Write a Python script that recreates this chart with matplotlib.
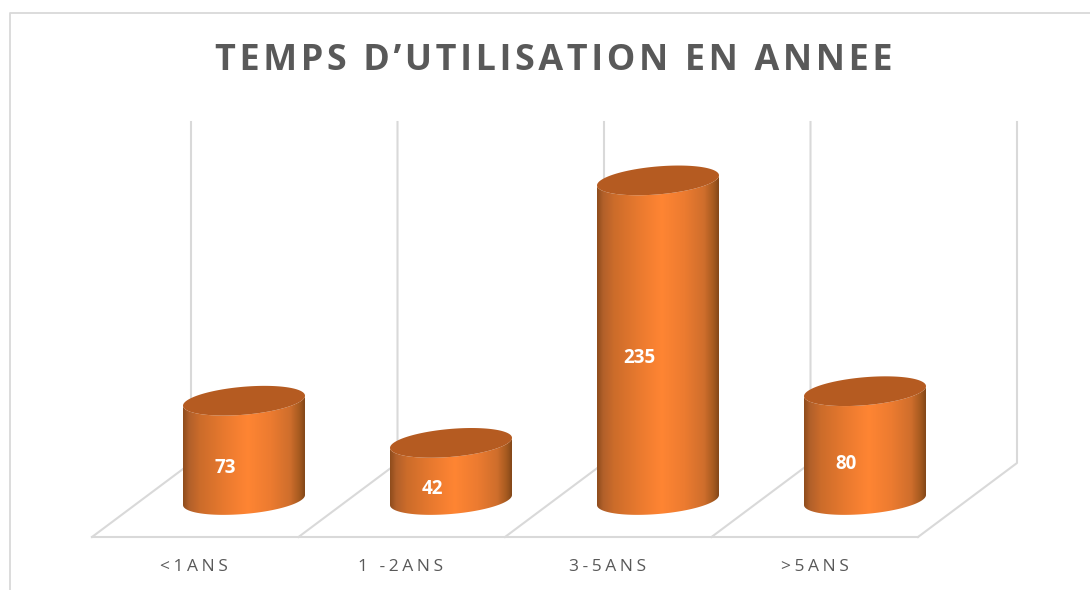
import numpy as np
import matplotlib.pyplot as plt
from matplotlib.colors import LinearSegmentedColormap
from matplotlib.patches import Polygon

title = "TEMPS D\u2019UTILISATION EN ANNEE"
categories = ["<1ANS", "1 -2ANS", "3-5ANS", ">5ANS"]
values = [73, 42, 235, 80]

W, H = 1090, 590
BASE_Y = 500    # pixel row of value 0 (centre of the cylinder foot)
PX_PER_UNIT = 1.36
FIRST_X = 244
STEP_X = 207
AX_LEFT, AX_RIGHT, AX_BOTTOM, AX_TOP = 92, 1017, 537, 122

grid_c = "#d9d9d9"
text_c = "#595959"

plt.rcParams["font.family"] = ["Open Sans", "DejaVu Sans"]


def spaced(s, sep):
    return sep.join(s)


fig = plt.figure(figsize=(W / 100, H / 100), dpi=100, facecolor="white")

# frame, back wall and floor lines, in pixels
bg = fig.add_axes([0, 0, 1, 1])
bg.set_xlim(0, W)
bg.set_ylim(H, 0)
bg.axis("off")
bg.plot([9.5, 9.5, W], [H, 12.5, 12.5], color=grid_c, lw=1.3)
for i in range(5):
    xf = AX_LEFT + i * (AX_RIGHT - 99 - AX_LEFT) / 4
    xb = xf + 99
    bg.plot([xb, xb, xf], [AX_TOP, 463, AX_BOTTOM], color=grid_c, lw=1.5)
bg.plot([AX_LEFT, AX_RIGHT - 99], [AX_BOTTOM, AX_BOTTOM], color=grid_c, lw=1.5)

# data axes
ax = fig.add_axes([AX_LEFT / W, 1 - AX_BOTTOM / H, (AX_RIGHT - AX_LEFT) / W, (AX_BOTTOM - AX_TOP) / H])
ax.patch.set_alpha(0)
xlim = ((AX_LEFT - FIRST_X) / STEP_X, (AX_RIGHT - FIRST_X) / STEP_X)
ylim = ((BASE_Y - AX_BOTTOM) / PX_PER_UNIT, (BASE_Y - AX_TOP) / PX_PER_UNIT)

half_w = 61 / STEP_X
half_h = 14 / PX_PER_UNIT
skew = 5 / PX_PER_UNIT

side_cmap = LinearSegmentedColormap.from_list("side", [
    (0.0, "#8f4c1d"), (0.05, "#b2602a"), (0.14, "#cc6c2a"), (0.35, "#ea7a2f"),
    (0.53, "#ff8533"), (0.72, "#ec7b30"), (0.88, "#cf6e2c"), (0.96, "#a4591f"), (1.0, "#834719"),
])
shade = np.linspace(0, 1, 256).reshape(1, -1)

t = np.linspace(0, 2 * np.pi, 181)
for i, v in enumerate(values):
    ex = i + half_w * np.cos(t)
    ey = half_h * np.sin(t) + skew * np.cos(t)

    # body: foot arc (lower half) then top arc (lower half, reversed)
    lower = t[90:]
    bx = i + half_w * np.cos(lower)
    by = half_h * np.sin(lower) + skew * np.cos(lower)
    verts = np.r_[np.c_[bx, by], np.c_[bx[::-1], by[::-1] + v]]
    body = Polygon(verts, closed=True, fc="none", ec="none", transform=ax.transData)
    ax.add_patch(body)
    im = ax.imshow(shade, cmap=side_cmap, aspect="auto", interpolation="bilinear",
                   extent=(i - half_w, i + half_w, -30, v + 30), zorder=2)
    im.set_clip_path(body)

    ax.fill(ex, ey + v, color="#b55b21", lw=0, zorder=3)

    ax.annotate(str(v), (i, v / 2), xytext=(-19, -18), textcoords="offset pixels",
                ha="center", va="center", color="white", fontsize=13.5, fontweight="bold", zorder=4)

ax.set_xlim(xlim)
ax.set_ylim(ylim)
ax.set_yticks([])
ax.set_xticks(np.arange(len(categories)) - 50 / STEP_X)
ax.set_xticklabels([spaced(c, "\u200a\u200a") for c in categories], color=text_c, fontsize=12.5)
ax.tick_params(axis="x", length=0, pad=16)
for s in ax.spines.values():
    s.set_visible(False)

fig.text(554 / W, 1 - 61 / H, spaced(title, "\u200a"), ha="center", va="center",
         color=text_c, fontsize=25.8, fontweight="bold")

fig.savefig("out.png", dpi=100, facecolor="white")
